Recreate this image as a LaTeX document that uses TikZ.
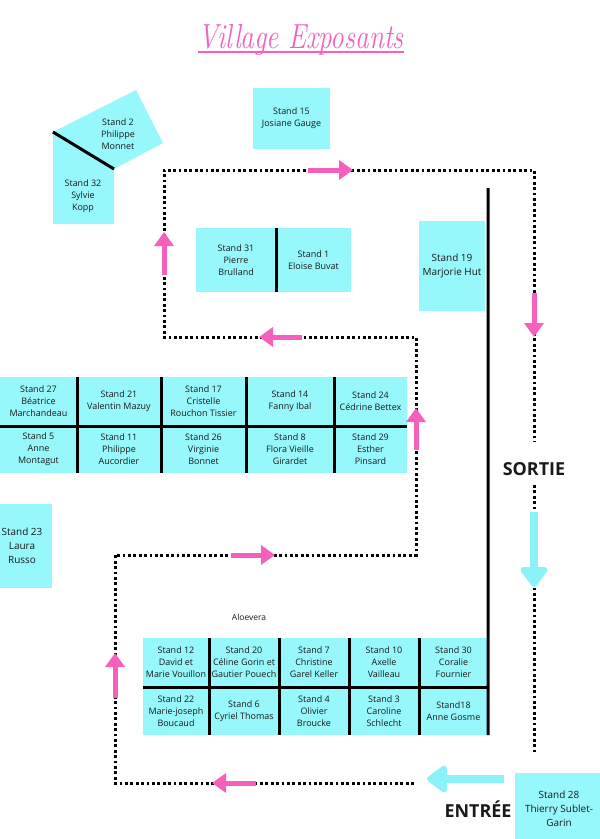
\documentclass[tikz,border=0pt]{standalone}
\usepackage{fontspec}
\setmainfont{Open Sans}
\newfontfamily\titlefamily{Latin Modern Roman}
\usepackage{xcolor}
\usepackage{tikz}
\usetikzlibrary{positioning,arrows.meta}
\definecolor{standcyan}{RGB}{151,248,252}
\definecolor{flowcyan}{RGB}{140,242,250}
\definecolor{flowpink}{RGB}{246,96,189}
\definecolor{ink}{RGB}{25,25,25}
\newcommand{\titlefont}{\titlefamily\itshape\fontsize{35}{35}\selectfont}

\begin{document}
\begin{tikzpicture}[x=1bp, y=-1bp,
   stand/.style={fill=standcyan, text=ink, align=center, inner sep=0pt, outer sep=0pt, font=\fontsize{9}{12}\selectfont},
   cell/.style 2 args={stand, minimum width=#1bp, minimum height=#2bp},
   bigtext/.style={font=\fontsize{10}{14}\selectfont},
   wall/.style={line width=3bp, black},
   route/.style={line width=3bp, dash pattern=on 2.8bp off 2.6bp},
   pinkflow/.style={draw=flowpink, line width=5bp, -{Triangle[length=14bp,width=19bp]}},
   cyanflow/.style={draw=flowcyan, line width=8bp, -{Triangle[length=22bp,width=31bp,round]}},
   sign/.style={text=ink, font=\bfseries\fontsize{18}{18}\selectfont}]
   \useasboundingbox (0,0) rectangle (600,839);

   % Title
   \node[text=flowpink, font=\titlefont, inner sep=0pt, anchor=base] (title) at (301,48) {\scalebox{0.78}[1]{Village Exposants}};
   \draw[flowpink, line width=2bp] ([yshift=-4bp]title.base west) -- ([yshift=-4bp]title.base east);

   % Stand 2 and Stand 32 (corner)
   \coordinate (c2a) at (136,90);
   \coordinate (c2b) at (163,143);
   \coordinate (c2c) at (114,169);
   \coordinate (c2d) at (53,132);
   \coordinate (c32a) at (114,224);
   \coordinate (c32b) at (53,224);
   \fill[standcyan] (c2a) -- (c2b) -- (c2c) -- (c2d) -- cycle;
   \fill[standcyan] (c2d) -- (c2c) -- (c32a) -- (c32b) -- cycle;
   \draw[wall] (c2d) -- (c2c);
   \node[stand, fill=none] (s2) at (118,134) {Stand 2\\Philippe\\Monnet};
   \node[stand, fill=none] (s32) at (83,196) {Stand 32\\Sylvie\\Kopp};

   % Single stands
   \node[cell={77}{61}] (s15) at (291.5,118.5) {Stand 15\\Josiane Gauge};
   \node[cell={66}{90}, bigtext] (s19) at (452,266) {Stand 19\\Marjorie Hut};
   \node[cell={60}{84}, bigtext] (s23) at (22,546) {Stand 23\\Laura\\Russo};
   \node[cell={88}{72}, bigtext] (s28) at (559,809) {Stand 28\\Thierry Sublet-\\Garin};

   % Stand 31 / Stand 1
   \node[cell={80}{64}] (s31) at (236,260) {Stand 31\\Pierre\\Brulland};
   \node[cell={75}{64}, right=0pt of s31] (s1) {Stand 1\\Eloise Buvat};
   \draw[wall] (s31.north east) -- (s31.south east);

   % Middle block
   \node[cell={77}{49}] (s27) at (38.5,401.5) {Stand 27\\Béatrice\\Marchandeau};
   \node[cell={84}{49}, right=0pt of s27] (s21) {Stand 21\\Valentin Mazuy};
   \node[cell={85}{49}, right=0pt of s21] (s17) {Stand 17\\Cristelle\\Rouchon Tissier};
   \node[cell={88}{49}, right=0pt of s17] (s14) {Stand 14\\Fanny Ibal};
   \node[cell={73}{49}, right=0pt of s14] (s24) {Stand 24\\Cédrine Bettex};
   \node[cell={77}{47}, below=0pt of s27] (s5) {Stand 5\\Anne\\Montagut};
   \node[cell={84}{47}, below=0pt of s21] (s11) {Stand 11\\Philippe\\Aucordier};
   \node[cell={85}{47}, below=0pt of s17] (s26) {Stand 26\\Virginie\\Bonnet};
   \node[cell={88}{47}, below=0pt of s14] (s8) {Stand 8\\Flora Vieille\\Girardet};
   \node[cell={73}{47}, below=0pt of s24] (s29) {Stand 29\\Esther\\Pinsard};
   \draw[wall] (s27.north east) -- (s5.south east);
   \draw[wall] (s21.north east) -- (s11.south east);
   \draw[wall] (s17.north east) -- (s26.south east);
   \draw[wall] (s14.north east) -- (s8.south east);
   \draw[wall] (s5.north west) -- (s29.north east);

   % Bottom block
   \node (aloe) at (249,617) [text=ink, font=\fontsize{8.5}{10}\selectfont] {Aloevera};
   \node[cell={66}{49}] (s12) at (176,662.5) {Stand 12\\David et\\Marie Vouillon};
   \node[cell={70}{49}, right=0pt of s12] (s20) {Stand 20\\Céline Gorin et\\Gautier Pouech};
   \node[cell={70}{49}, right=0pt of s20] (s7) {Stand 7\\Christine\\Garel Keller};
   \node[cell={70}{49}, right=0pt of s7] (s10) {Stand 10\\Axelle\\Vailleau};
   \node[cell={69}{49}, right=0pt of s10] (s30) {Stand 30\\Coralie\\Fournier};
   \node[cell={66}{48}, below=0pt of s12] (s22) {Stand 22\\Marie-joseph\\Boucaud};
   \node[cell={70}{48}, below=0pt of s20] (s6) {Stand 6\\Cyriel Thomas};
   \node[cell={70}{48}, below=0pt of s7] (s4) {Stand 4\\Olivier\\Broucke};
   \node[cell={70}{48}, below=0pt of s10] (s3) {Stand 3\\Caroline\\Schlecht};
   \node[cell={69}{48}, below=0pt of s30] (s18) {Stand18\\Anne Gosme};
   \draw[wall] (s12.north east) -- (s22.south east);
   \draw[wall] (s20.north east) -- (s6.south east);
   \draw[wall] (s7.north east) -- (s4.south east);
   \draw[wall] (s10.north east) -- (s3.south east);
   \draw[wall] (s22.north west) -- (s18.north east);

   % Long wall
   \coordinate (walltop) at (488,188);
   \draw[wall] (walltop) -- (s18.south east);

   % Visitor route
   \coordinate (r1) at (414,783);
   \coordinate (r2) at (115,783);
   \coordinate (r3) at (115,555);
   \coordinate (r4) at (416,555);
   \coordinate (r5) at (416,337);
   \coordinate (r6) at (164,337);
   \coordinate (r7) at (164,170);
   \coordinate (r8) at (534,170);
   \coordinate (r9) at (534,442);
   \coordinate (r10) at (534,485);
   \coordinate (r11) at (534,753);
   \draw[route] (r1) -- (r2) -- (r3) -- (r4) -- (r5) -- (r6) -- (r7) -- (r8) -- (r9);
   \draw[route] (r10) -- (r11);

   % Direction arrows
   \draw[pinkflow] (256,783) -- (212,783);
   \draw[pinkflow] (115,698) -- (115,653);
   \draw[pinkflow] (231,555) -- (275,555);
   \draw[pinkflow] (416,450) -- (416,408);
   \draw[pinkflow] (302,337) -- (259,337);
   \draw[pinkflow] (164,275) -- (164,232);
   \draw[pinkflow] (308,170) -- (353,170);
   \draw[pinkflow] (534,293) -- (534,337);
   \draw[cyanflow] (534,512) -- (534,587);
   \draw[cyanflow] (504,779) -- (427,779);

   % Exit and entrance
   \node[sign] (sortie) at (534,469) {SORTIE};
   \node[sign] (entree) at (478,809) {ENTRÉE};
\end{tikzpicture}
\end{document}
